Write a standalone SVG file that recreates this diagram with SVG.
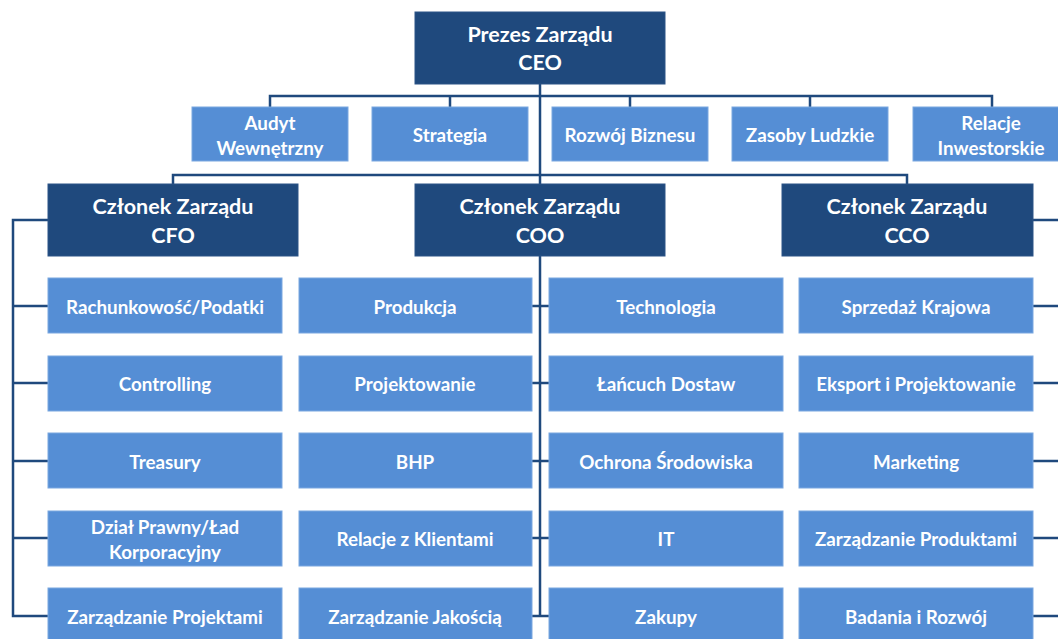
<svg xmlns="http://www.w3.org/2000/svg" width="1058" height="639" viewBox="0 0 1058 639">
<style>
.dark{fill:#1f497d;stroke:#2c5487;stroke-width:1}
.light{fill:#558ed5;stroke:#7aa7e0;stroke-width:1}
.t{font-family:Lato,"Liberation Sans",sans-serif;font-weight:bold;fill:#ffffff;text-anchor:middle;dominant-baseline:central}
.tl{font-size:21.5px}
.ts{font-size:18.8px}
.c{fill:none;stroke:#1f497d;stroke-width:2.5}
</style>
<rect width="1058" height="639" fill="#ffffff"/>
<g id="connectors">
<path class="c" d="M540 84V616"/>
<path class="c" d="M270 107V96H992V107M450 96V107M630 96V107M810 96V107"/>
<path class="c" d="M173 184V175H907V184"/>
<path class="c" d="M48 220H13V616H48M13 306H48M13 383H48M13 461H48M13 538H48"/>
<path class="c" d="M532 306H549M532 383H549M532 461H549M532 538H549M532 616H549"/>
<path class="c" d="M1033 220H1058M1033 306H1058M1033 383H1058M1033 461H1058M1033 538H1058M1033 616H1058"/>
</g>
<g id="ceo"><rect class="dark" x="415" y="12" width="250" height="72"/><text class="t tl" x="540" y="34">Prezes Zarządu</text><text class="t tl" x="540" y="62">CEO</text></g>
<g id="audyt"><rect class="light" x="192" y="107" width="156" height="54"/><text class="t ts" x="270" y="122">Audyt</text><text class="t ts" x="270" y="147">Wewnętrzny</text></g>
<g id="strategia"><rect class="light" x="372" y="107" width="156" height="54"/><text class="t ts" x="450" y="134">Strategia</text></g>
<g id="rozwoj"><rect class="light" x="552" y="107" width="156" height="54"/><text class="t ts" x="630" y="134">Rozwój Biznesu</text></g>
<g id="zasoby"><rect class="light" x="732" y="107" width="156" height="54"/><text class="t ts" x="810" y="134">Zasoby Ludzkie</text></g>
<g id="relacje-inw"><rect class="light" x="913" y="107" width="156" height="54"/><text class="t ts" x="991" y="122">Relacje</text><text class="t ts" x="991" y="147">Inwestorskie</text></g>
<g id="cfo"><rect class="dark" x="48" y="184" width="250" height="72"/><text class="t tl" x="173" y="206">Członek Zarządu</text><text class="t tl" x="173" y="235">CFO</text></g>
<g id="coo"><rect class="dark" x="415" y="184" width="250" height="72"/><text class="t tl" x="540" y="206">Członek Zarządu</text><text class="t tl" x="540" y="235">COO</text></g>
<g id="cco"><rect class="dark" x="782" y="184" width="251" height="72"/><text class="t tl" x="907" y="206">Członek Zarządu</text><text class="t tl" x="907" y="235">CCO</text></g>
<g id="c1r1"><rect class="light" x="48" y="278" width="234" height="55"/><text class="t ts" x="165" y="306">Rachunkowość/Podatki</text></g>
<g id="c1r2"><rect class="light" x="48" y="356" width="234" height="55"/><text class="t ts" x="165" y="383">Controlling</text></g>
<g id="c1r3"><rect class="light" x="48" y="433" width="234" height="55"/><text class="t ts" x="165" y="461">Treasury</text></g>
<g id="c1r4"><rect class="light" x="48" y="511" width="234" height="55"/><text class="t ts" x="165" y="526">Dział Prawny/Ład</text><text class="t ts" x="165" y="551">Korporacyjny</text></g>
<g id="c1r5"><rect class="light" x="48" y="588" width="234" height="55"/><text class="t ts" x="165" y="616">Zarządzanie Projektami</text></g>
<g id="c2r1"><rect class="light" x="299" y="278" width="233" height="55"/><text class="t ts" x="415" y="306">Produkcja</text></g>
<g id="c2r2"><rect class="light" x="299" y="356" width="233" height="55"/><text class="t ts" x="415" y="383">Projektowanie</text></g>
<g id="c2r3"><rect class="light" x="299" y="433" width="233" height="55"/><text class="t ts" x="415" y="461">BHP</text></g>
<g id="c2r4"><rect class="light" x="299" y="511" width="233" height="55"/><text class="t ts" x="415" y="538">Relacje z Klientami</text></g>
<g id="c2r5"><rect class="light" x="299" y="588" width="233" height="55"/><text class="t ts" x="415" y="616">Zarządzanie Jakością</text></g>
<g id="c3r1"><rect class="light" x="549" y="278" width="234" height="55"/><text class="t ts" x="666" y="306">Technologia</text></g>
<g id="c3r2"><rect class="light" x="549" y="356" width="234" height="55"/><text class="t ts" x="666" y="383">Łańcuch Dostaw</text></g>
<g id="c3r3"><rect class="light" x="549" y="433" width="234" height="55"/><text class="t ts" x="666" y="461">Ochrona Środowiska</text></g>
<g id="c3r4"><rect class="light" x="549" y="511" width="234" height="55"/><text class="t ts" x="666" y="538">IT</text></g>
<g id="c3r5"><rect class="light" x="549" y="588" width="234" height="55"/><text class="t ts" x="666" y="616">Zakupy</text></g>
<g id="c4r1"><rect class="light" x="799" y="278" width="234" height="55"/><text class="t ts" x="916" y="306">Sprzedaż Krajowa</text></g>
<g id="c4r2"><rect class="light" x="799" y="356" width="234" height="55"/><text class="t ts" x="916" y="383">Eksport i Projektowanie</text></g>
<g id="c4r3"><rect class="light" x="799" y="433" width="234" height="55"/><text class="t ts" x="916" y="461">Marketing</text></g>
<g id="c4r4"><rect class="light" x="799" y="511" width="234" height="55"/><text class="t ts" x="916" y="538">Zarządzanie Produktami</text></g>
<g id="c4r5"><rect class="light" x="799" y="588" width="234" height="55"/><text class="t ts" x="916" y="616">Badania i Rozwój</text></g>
</svg>
